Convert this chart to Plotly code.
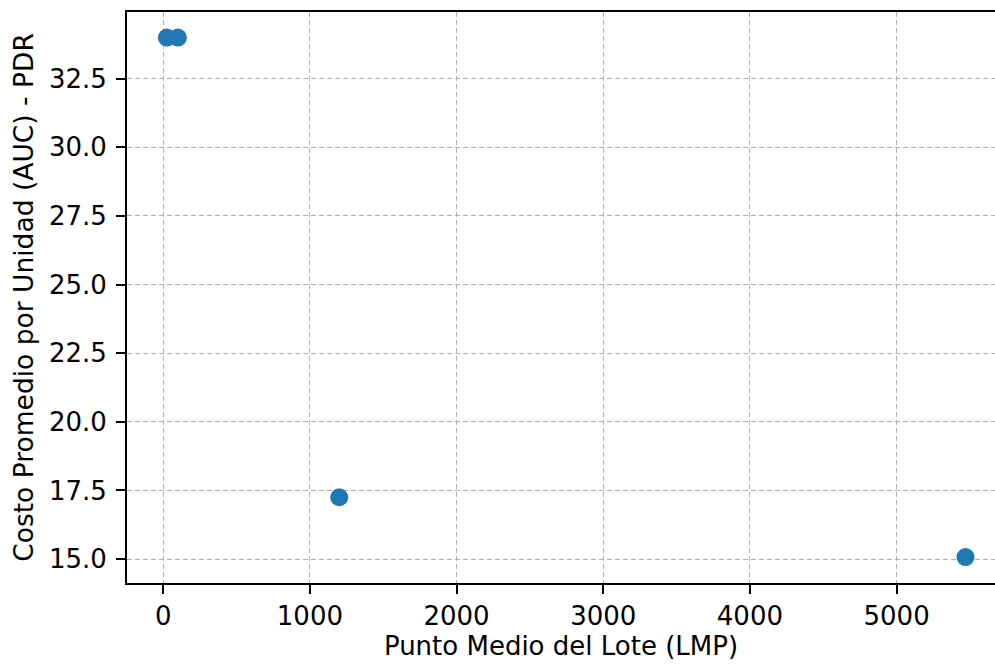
import plotly.graph_objects as go

lmp = [25, 100, 1200, 5470]
auc = [34.0, 34.0, 17.25, 15.07]
x_ticks = [0, 1000, 2000, 3000, 4000, 5000]
y_ticks = [15.0, 17.5, 20.0, 22.5, 25.0, 27.5, 30.0, 32.5]
y_tick_labels = ["15.0", "17.5", "20.0", "22.5", "25.0", "27.5", "30.0", "32.5"]

FONT = "DejaVu Sans"

fig = go.Figure()
fig.add_trace(go.Scatter(
    x=lmp, y=auc, mode="markers",
    marker=dict(color="#1f77b4", size=18, line=dict(width=0)),
    showlegend=False,
))

axis_common = dict(
    showline=True, linecolor="black", linewidth=2,
    ticks="outside", ticklen=9, tickwidth=1.8, tickcolor="black",
    showgrid=True, gridcolor="#b0b0b0", gridwidth=1, griddash="5px,3px",
    zeroline=False,
    tickfont=dict(family=FONT, size=26, color="black"),
)

fig.update_xaxes(
    **axis_common,
    mirror=True,
    range=[-247, 5671],
    tickvals=x_ticks, ticktext=[str(v) for v in x_ticks],
    ticklabelstandoff=0,
    title=dict(text="Punto Medio del Lote (LMP)", font=dict(family=FONT, size=26, color="black"), standoff=3),
)
fig.update_yaxes(
    **axis_common,
    mirror=False,
    range=[14.126, 34.93],
    tickvals=y_ticks, ticktext=y_tick_labels,
    ticklabelstandoff=4,
    title=dict(text="Costo Promedio por Unidad (AUC) - PDR", font=dict(family=FONT, size=26.5, color="black"), standoff=8),
)

fig.update_layout(
    width=995, height=665,
    margin=dict(l=127, r=0, t=12, b=82),
    plot_bgcolor="white", paper_bgcolor="white",
    font=dict(family=FONT, color="black"),
)

fig.write_html(
    "out.html",
    config={"displayModeBar": False},
    post_script="document.body.style.margin='0';document.body.style.overflow='hidden';",
)
